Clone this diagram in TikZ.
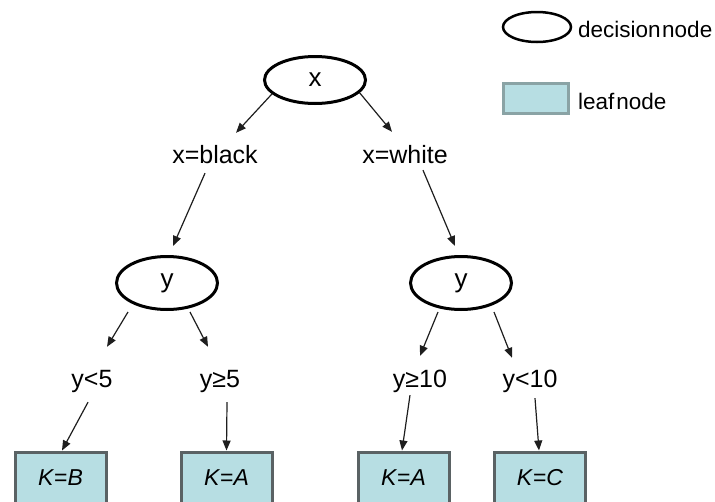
\documentclass[tikz,border=0pt]{standalone}
\usepackage{fontspec}
\setmainfont{Liberation Sans}
\usetikzlibrary{arrows.meta,shapes.geometric}
\definecolor{leaffill}{HTML}{B7DEE3}
\definecolor{leafedge}{HTML}{5A6264}
\definecolor{keyedge}{HTML}{8AA3A5}
\definecolor{linkgray}{HTML}{1E1E1E}
\begin{document}
\begin{tikzpicture}[x=1pt,y=-1pt,
  decision/.style={ellipse, draw=black, line width=3pt, minimum width=101pt,
    minimum height=50pt, inner sep=0pt, font=\fontsize{26}{26}\selectfont},
  leaf/.style={rectangle, draw=leafedge, fill=leaffill, line width=3pt,
    minimum width=91pt, minimum height=52pt, inner sep=0pt,
    font=\fontsize{23}{23}\selectfont},
  cond/.style={anchor=base, inner sep=0pt, text height=18pt, text depth=5pt,
    font=\fontsize{25}{25}\selectfont},
  keytext/.style={anchor=west, inner sep=0pt, font=\fontsize{22.5}{22.5}\selectfont},
  link/.style={draw=linkgray, line width=1.2pt, -{Triangle[length=10pt,width=8pt]}},
]
\useasboundingbox (0,0) rectangle (715,501);
\clip (0,0) rectangle (715,501);

% legend
\node[decision, minimum width=68pt, minimum height=30pt, line width=2.5pt] (keydec) at (537,27) {};
\node[keytext] (keydectxt) at (578,29) {decision\hspace{1.5pt}node};
\node[rectangle, draw=keyedge, fill=leaffill, line width=3pt,
      minimum width=65pt, minimum height=30pt] (keyleaf) at (536,98.5) {};
\node[keytext] (keyleaftxt) at (578,101) {leaf\hspace{2pt}node};

% decision nodes
\node[decision, minimum height=47pt] (root) at (315,80) {x};
\node[decision, minimum height=53pt] (yL) at (167,283) {y};
\node[decision, minimum height=53pt] (yR) at (461,283) {y};

% branch conditions
\node[cond] (lblack) at (215,163) {x=black};
\node[cond] (lwhite) at (405,163) {x=white};
\node[cond] (lt5)   at (92,387)  {y<5};
\node[cond] (lge5)  at (220,387) {y≥5};
\node[cond] (lge10) at (420,387) {y≥10};
\node[cond] (llt10) at (530,387) {y<10};

% leaves
\node[leaf] (leafB)  at (60.5,478)  {\textit{K}=\textit{B}};
\node[leaf] (leafA1) at (226.5,478) {\textit{K}=\textit{A}};
\node[leaf] (leafA2) at (403.5,478) {\textit{K}=\textit{A}};
\node[leaf] (leafC)  at (540,478)   {\textit{K}=\textit{C}};

% connectors
\draw[link] (root.198) -- ([xshift=21pt,yshift=12pt]lblack.north);
\draw[link] (root.344) -- ([xshift=-13pt,yshift=13pt]lwhite.north);
\draw[link] ([xshift=-10pt,yshift=-5pt]lblack.south) -- ([xshift=6pt,yshift=9pt]yL.north);
\draw[link] ([xshift=18pt,yshift=-2pt]lwhite.south) -- ([xshift=-6pt,yshift=9pt]yR.north);
\draw[link] ([xshift=-39pt,yshift=-1pt]yL.south) -- ([xshift=15pt,yshift=22pt]lt5.north);
\draw[link] ([xshift=23pt,yshift=-1pt]yL.south) -- ([xshift=-12pt,yshift=22pt]lge5.north);
\draw[link] ([xshift=-23pt,yshift=-1pt]yR.south) -- ([yshift=13pt]lge10.north);
\draw[link] ([xshift=33pt,yshift=-1pt]yR.south) -- ([xshift=-18pt,yshift=11pt]llt10.north);
\draw[link] ([xshift=-4pt,yshift=-10pt]lt5.south) -- ([xshift=1.5pt]leafB.north);
\draw[link] ([xshift=7pt,yshift=-10pt]lge5.south) -- (leafA1.north);
\draw[link] ([xshift=-10pt,yshift=-3pt]lge10.south) -- ([xshift=-1.5pt]leafA2.north);
\draw[link] ([xshift=5pt,yshift=-6pt]llt10.south) -- ([xshift=-1pt]leafC.north);
\end{tikzpicture}
\end{document}
